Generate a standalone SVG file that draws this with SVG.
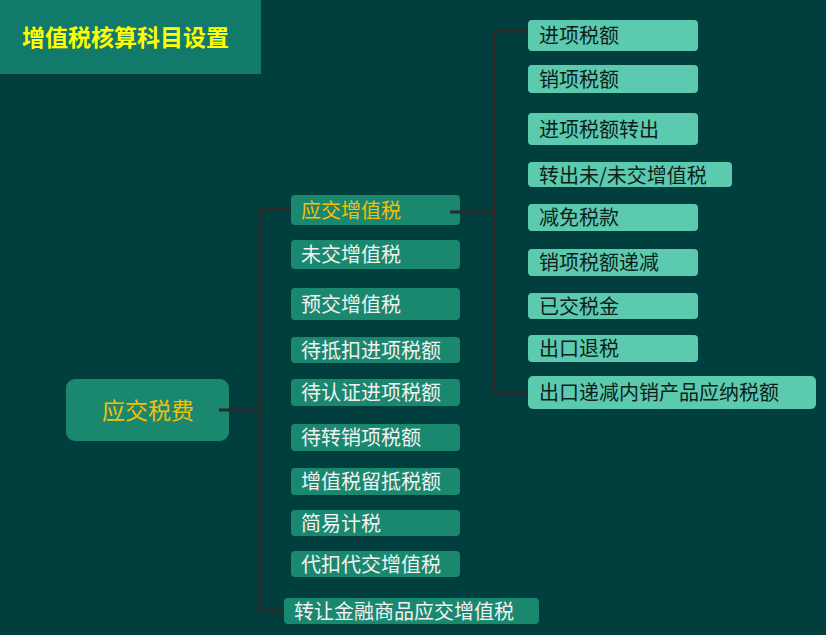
<svg xmlns="http://www.w3.org/2000/svg" width="826" height="635" viewBox="0 0 826 635">
<style>
text{font-family:"Noto Sans CJK SC","Noto Sans",sans-serif;dominant-baseline:central}
.l2 rect{fill:#1A876F}
.l2 text{font-size:20px;fill:#F2F2F2}
.l3 rect{fill:#5CCAAF}
.l3 text{font-size:20px;fill:#0E1E1C}
.conn{fill:none;stroke:#2B2B2B;stroke-width:3}
</style>
<rect width="826" height="635" fill="#003F3D"/>
<g id="title">
<rect x="0" y="0" width="261" height="74" fill="#127A6A"/>
<text x="22" y="36" font-size="23" font-weight="bold" fill="#FFFF00">增值税核算科目设置</text>
</g>
<g id="root">
<rect x="66" y="379" width="163" height="62" rx="9" fill="#1A876F"/>
<text x="148" y="409" font-size="23" fill="#F5C000" text-anchor="middle">应交税费</text>
</g>
<g id="n1" class="l2"><rect x="291" y="195" width="169" height="30" rx="4"/><text x="301" y="209" style="fill:#F5C000">应交增值税</text></g>
<g id="n2" class="l2"><rect x="291" y="240" width="169" height="29" rx="4"/><text x="301" y="253">未交增值税</text></g>
<g id="n3" class="l2"><rect x="291" y="288" width="169" height="32" rx="4"/><text x="301" y="303">预交增值税</text></g>
<g id="n4" class="l2"><rect x="291" y="337" width="169" height="26" rx="4"/><text x="301" y="349">待抵扣进项税额</text></g>
<g id="n5" class="l2"><rect x="291" y="379" width="169" height="27" rx="4"/><text x="301" y="391">待认证进项税额</text></g>
<g id="n6" class="l2"><rect x="291" y="424" width="169" height="27" rx="4"/><text x="301" y="436">待转销项税额</text></g>
<g id="n7" class="l2"><rect x="291" y="468" width="169" height="27" rx="4"/><text x="301" y="480">增值税留抵税额</text></g>
<g id="n8" class="l2"><rect x="291" y="510" width="169" height="26" rx="4"/><text x="301" y="522">简易计税</text></g>
<g id="n9" class="l2"><rect x="291" y="551" width="169" height="26" rx="4"/><text x="301" y="563">代扣代交增值税</text></g>
<g id="n10" class="l2"><rect x="284" y="598" width="255" height="26" rx="4"/><text x="294" y="610">转让金融商品应交增值税</text></g>
<g id="m1" class="l3"><rect x="528" y="20" width="170" height="31" rx="4"/><text x="539" y="34.5">进项税额</text></g>
<g id="m2" class="l3"><rect x="528" y="65" width="170" height="28" rx="4"/><text x="539" y="78">销项税额</text></g>
<g id="m3" class="l3"><rect x="528" y="113" width="170" height="32" rx="4"/><text x="539" y="128">进项税额转出</text></g>
<g id="m4" class="l3"><rect x="528" y="162" width="204" height="25" rx="4"/><text x="539" y="174">转出未/未交增值税</text></g>
<g id="m5" class="l3"><rect x="528" y="204" width="170" height="27" rx="4"/><text x="539" y="216">减免税款</text></g>
<g id="m6" class="l3"><rect x="528" y="249" width="170" height="27" rx="4"/><text x="539" y="261">销项税额递减</text></g>
<g id="m7" class="l3"><rect x="528" y="293" width="170" height="26" rx="4"/><text x="539" y="305">已交税金</text></g>
<g id="m8" class="l3"><rect x="528" y="335" width="170" height="27" rx="4"/><text x="539" y="347">出口退税</text></g>
<g id="m9" class="l3"><rect x="528" y="376" width="288" height="33" rx="5"/><text x="539" y="391">出口递减内销产品应纳税额</text></g>
<g id="connectors" class="conn">
<path d="M219 410H260M260 209V611M260 209H291M260 611H284"/>
<path d="M450 212H494M494 31V393M494 31H528M494 393H528"/>
</g>
</svg>
